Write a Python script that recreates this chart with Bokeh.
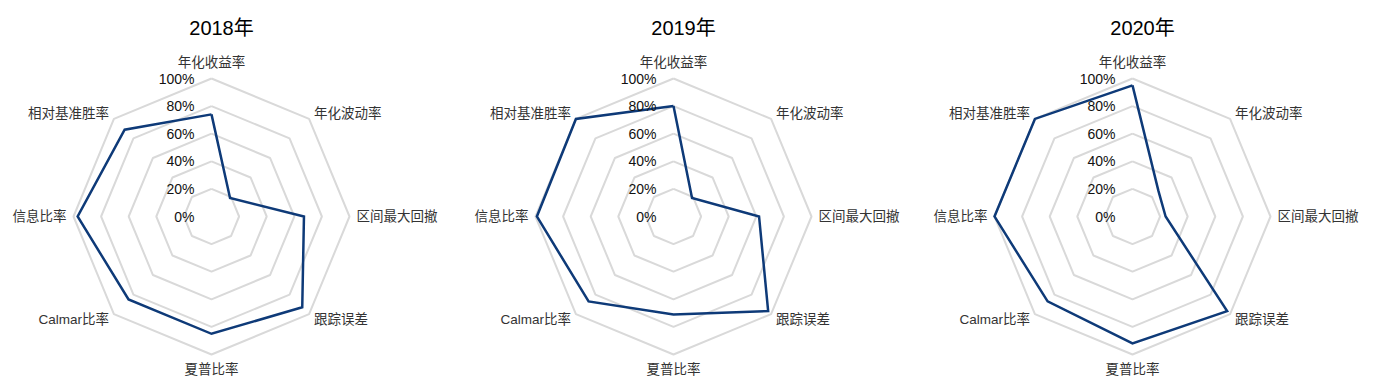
import math
from bokeh.plotting import figure
from bokeh.models import Range1d
from bokeh.core.properties import value
from bokeh.embed import file_html
from bokeh.resources import INLINE

categories = ["年化收益率", "年化波动率", "区间最大回撤", "跟踪误差",
              "夏普比率", "Calmar比率", "信息比率", "相对基准胜率"]
years = ["2018年", "2019年", "2020年"]
values_2018 = [0.74, 0.19, 0.67, 0.93, 0.85, 0.85, 0.97, 0.89]
values_2019 = [0.80, 0.19, 0.62, 0.97, 0.71, 0.87, 0.99, 1.00]
values_2020 = [0.95, 0.265, 0.24, 0.97, 0.92, 0.87, 1.00, 1.00]
tick_values = [0.0, 0.2, 0.4, 0.6, 0.8, 1.0]
tick_labels = ["0%", "20%", "40%", "60%", "80%", "100%"]

series = [values_2018, values_2019, values_2020]

W, H = 1374, 390
centers_x = [211, 673, 1132]
center_y = 216
R = 138  # pixels for 100%

GRID = "#d9d9d9"
LINE = "#0e3a78"
CJK = "Liberation Sans, Noto Sans CJK SC"

p = figure(width=W, height=H, x_range=Range1d(0, W), y_range=Range1d(H, 0),
           output_backend="svg", toolbar_location=None, min_border=0,
           x_axis_location=None, y_axis_location=None)
p.grid.visible = False
p.outline_line_color = None
p.background_fill_color = "white"
p.border_fill_color = "white"

n = len(categories)
angles = [2 * math.pi * k / n for k in range(n)]


def pt(cx, r, a):
    return cx + R * r * math.sin(a), center_y - R * r * math.cos(a)


for ci, cx in enumerate(centers_x):
    # grid rings
    xs, ys = [], []
    for tv in tick_values[1:]:
        rx, ry = [], []
        for a in angles + [angles[0]]:
            x, y = pt(cx, tv, a)
            rx.append(x)
            ry.append(y)
        xs.append(rx)
        ys.append(ry)
    p.multi_line(xs, ys, line_color=GRID, line_width=2)

    # data polygon
    vals = series[ci]
    dx, dy = [], []
    for v, a in zip(vals + [vals[0]], angles + [angles[0]]):
        x, y = pt(cx, v, a)
        dx.append(x)
        dy.append(y)
    p.line(dx, dy, line_color=LINE, line_width=2.5, line_join="miter")

    # tick labels
    p.text(x=[cx - 17] * len(tick_values),
           y=[center_y - R * tv for tv in tick_values],
           text=tick_labels, text_align="right", text_baseline="middle",
           text_font=value("Liberation Sans"), text_font_size="14px",
           text_color="#111111")

    # category labels
    lx, ly, la = [], [], []
    for k, a in enumerate(angles):
        s, c = math.sin(a), math.cos(a)
        if k == 0:
            lx.append(cx); ly.append(center_y - 154); la.append("center")
        elif k == 4:
            lx.append(cx); ly.append(center_y + 153); la.append("center")
        else:
            rr = 145
            lx.append(cx + rr * s)
            ly.append(center_y - rr * c)
            la.append("left" if s > 0 else "right")
    for x, y, t, al in zip(lx, ly, categories, la):
        p.text(x=[x], y=[y], text=[t], text_align=al, text_baseline="middle",
               text_font=value(CJK), text_font_size="13.5px",
               text_color="#333333")

    # title
    p.text(x=[cx + 10], y=[27], text=[years[ci]], text_align="center",
           text_baseline="middle", text_font=value(CJK),
           text_font_size="20px", text_color="#000000")

open("out.html", "w").write(file_html(p, INLINE))
